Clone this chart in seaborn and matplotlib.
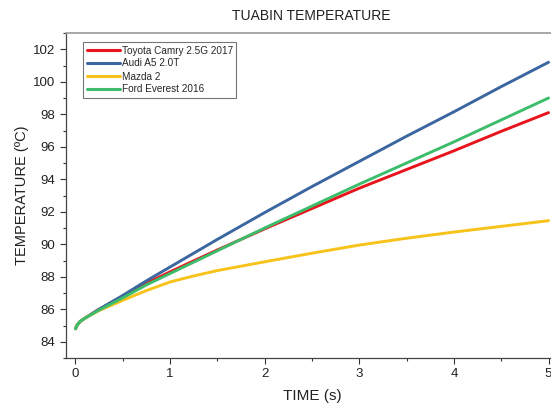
import numpy as np
import pandas as pd
import matplotlib
matplotlib.use("Agg")
import matplotlib.pyplot as plt
import seaborn as sns
from matplotlib.ticker import MultipleLocator

time_s = [0, 0.02, 0.05, 0.1, 0.25, 0.5, 0.75, 1.0, 1.25, 1.5, 2.0, 2.5, 3.0, 3.5, 4.0, 4.5, 5.0]
camry = [84.8, 85.05, 85.25, 85.45, 86.0, 86.8, 87.6, 88.3, 88.98, 89.65, 90.95, 92.2, 93.45, 94.6, 95.75, 96.95, 98.1]
audi = [84.8, 85.05, 85.25, 85.45, 86.0, 86.85, 87.75, 88.6, 89.45, 90.3, 91.95, 93.55, 95.1, 96.65, 98.15, 99.7, 101.2]
mazda = [84.8, 85.05, 85.25, 85.45, 85.92, 86.55, 87.15, 87.68, 88.05, 88.38, 88.92, 89.45, 89.95, 90.37, 90.75, 91.1, 91.45]
everest = [84.8, 85.05, 85.25, 85.45, 85.95, 86.7, 87.5, 88.2, 88.9, 89.6, 91.0, 92.35, 93.7, 95.0, 96.3, 97.65, 99.0]

series_names = ["Toyota Camry 2.5G 2017", "Audi A5 2.0T", "Mazda 2", "Ford Everest 2016"]
colors = ["#e8141c", "#3b66a0", "#f7c21a", "#3dbd6c"]

df = pd.concat([
    pd.DataFrame({"time": time_s, "temp": vals, "car": name})
    for name, vals in zip(series_names, [camry, audi, mazda, everest])
])

sns.set_style("ticks")
plt.rcParams['font.family'] = ['Liberation Sans', 'DejaVu Sans']

fig = plt.figure(figsize=(5.51, 4.03), dpi=100)
ax = fig.add_axes([66/551, 1-358/403, 492/551, (358-33)/403])

sns.lineplot(data=df, x="time", y="temp", hue="car", hue_order=series_names,
             palette=colors, linewidth=2.1, ax=ax, estimator=None, sort=True)

ax.set_xlim(-0.1, 5.1)
ax.set_ylim(83, 103)
ax.xaxis.set_major_locator(MultipleLocator(1))
ax.xaxis.set_minor_locator(MultipleLocator(0.5))
ax.yaxis.set_major_locator(MultipleLocator(2))
ax.yaxis.set_minor_locator(MultipleLocator(1))
ax.tick_params(axis='both', which='major', length=4, width=0.8, direction='out',
               labelsize=9.5, colors='#333333', labelcolor='#222222')
ax.tick_params(axis='both', which='minor', length=2.5, width=0.8, direction='out', colors='#333333')

for s in ['left', 'bottom']:
    ax.spines[s].set_color('#444444')
    ax.spines[s].set_linewidth(0.9)
for s in ['top', 'right']:
    ax.spines[s].set_visible(True)
    ax.spines[s].set_color('#999999')
    ax.spines[s].set_linewidth(1.2)

ax.set_xlabel("TIME (s)", fontsize=11, color='#222222', labelpad=6)
ax.set_ylabel("TEMPERATURE (\u00baC)", fontsize=10.5, color='#222222', labelpad=3)
fig.text(311/551, 1-16/403, "TUABIN TEMPERATURE", ha='center', va='center', fontsize=10, color='#222222')

leg = ax.legend(loc='upper left', bbox_to_anchor=(17/492, 1-(42-33)/325), fontsize=7.2,
                frameon=True, fancybox=False, edgecolor='#555555', borderpad=0.35,
                handlelength=3.3, handletextpad=0.2, labelspacing=0.3, borderaxespad=0)
leg.get_frame().set_linewidth(0.8)
for line in leg.get_lines():
    line.set_linewidth(2.2)

fig.savefig("out.png", dpi=100)
